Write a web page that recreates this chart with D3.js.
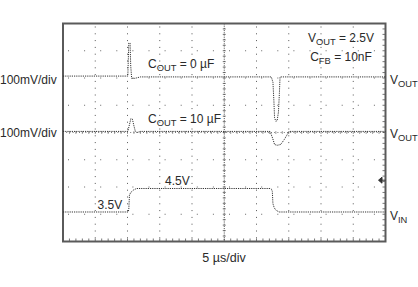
<!DOCTYPE html>
<html>
<head>
<meta charset="utf-8">
<script src="https://cdn.jsdelivr.net/npm/d3@7"></script>
<style>
  html, body { margin: 0; padding: 0; background: #fff; }
  svg { display: block; }
  text { font-family: "Liberation Sans", Arial, sans-serif; fill: #2a2a2a; }
</style>
</head>
<body>
<svg id="chart" width="418" height="287"></svg>
<script>
// ---------------- data ----------------
// time in microseconds (10 divisions x 5 us/div)
const timeDivs = d3.range(0, 11);          // horizontal divisions
const voltDivs = d3.range(0, 9);           // vertical divisions

// VOUT, COUT = 0 uF  (mV, relative to its trace ground, 100 mV/div)
const tCout0 = [0, 4, 8, 10.05, 10.12, 10.2, 10.4, 10.5, 10.65, 11.2, 12, 20, 28, 32.3, 32.55, 32.7, 32.8, 33.0, 33.2, 33.4, 33.55, 33.65, 40, 50];
const vCout0 = [3, 3, 3, 3, 60, 124, 124, 40, -6, -5, 0, 0, 0, 0, -20, -90, -150, -163, -160, -130, -60, 0, 0, 0];

// VOUT, COUT = 10 uF (mV, 100 mV/div)
const tCout10 = [0, 5, 10.06, 10.3, 10.53, 10.76, 11.0, 11.22, 11.46, 12, 20, 32.1, 32.5, 32.8, 33.2, 33.75, 34.3, 34.8, 35.1, 40, 50];
const vCout10 = [0, 0, 0, 25, 47, 45, 20, 0, -4, 0, 0, 0, -25, -48, -51, -48, -30, -10, 0, 0, 0];

// VIN (V)
const tVin = [0, 10.1, 10.2, 10.3, 10.5, 10.9, 11.4, 20, 32.2, 32.3, 32.45, 32.55, 32.75, 33.0, 33.5, 40, 50];
const vVin = [3.5, 3.5, 3.6, 4.22, 4.33, 4.43, 4.5, 4.5, 4.5, 4.48, 4.38, 3.85, 3.68, 3.58, 3.5, 3.5, 3.5];

// labels
const leftLabels  = ["100mV/div", "100mV/div"];
const levelLabels = ["3.5V", "4.5V"];
const xLabel = "5 µs/div";

// ---------------- layout ----------------
const L = 63, R = 385.5, T = 23.5, B = 241.5;
const svg = d3.select("#chart");

const x = d3.scaleLinear().domain([0, 50]).range([L, R]);
const xd = d3.scaleLinear().domain([0, 10]).range([L, R]);      // divisions
const yd = d3.scaleLinear().domain([0, 8]).range([B, T]);       // divisions

// trace -> division mapping
const y1 = d3.scaleLinear().domain([0, 100]).range([yd(6.04), yd(7.04)]);
const y2 = d3.scaleLinear().domain([0, 100]).range([yd(4.04), yd(5.04)]);
const yV = d3.scaleLinear().domain([3.5, 4.5]).range([yd(1.083), yd(1.945)]);

// ---------------- grid ----------------
const g = svg.append("g");
g.selectAll("line.vg").data(timeDivs.slice(1, -1).filter(d => d !== 5)).join("line")
  .attr("x1", d => xd(d)).attr("x2", d => xd(d))
  .attr("y1", T + 3).attr("y2", B)
  .attr("stroke", "#555").attr("stroke-width", 1)
  .attr("stroke-dasharray", "1 5.8");
g.selectAll("line.hg").data(voltDivs.slice(1, -1).filter(d => d !== 4)).join("line")
  .attr("x1", L + 5).attr("x2", R)
  .attr("y1", d => yd(d)).attr("y2", d => yd(d))
  .attr("stroke", "#666").attr("stroke-width", 1)
  .attr("stroke-dasharray", "1 15.1");
g.append("line").attr("x1", xd(5)).attr("x2", xd(5)).attr("y1", T).attr("y2", B)
  .attr("stroke", "#444").attr("stroke-dasharray", "1 1.2");
g.append("line").attr("x1", L).attr("x2", R).attr("y1", yd(4)).attr("y2", yd(4))
  .attr("stroke", "#777").attr("stroke-dasharray", "1 2.2");
const minorY = d3.range(0, 8.01, 0.2);
const minorX = d3.range(0, 10.01, 0.2);
g.selectAll("line.cty").data(minorY).join("line")
  .attr("x1", xd(5) - 1.5).attr("x2", xd(5) + 1.5)
  .attr("y1", d => yd(d)).attr("y2", d => yd(d))
  .attr("stroke", "#555").attr("stroke-width", 0.8);
g.selectAll("line.ctx").data(minorX).join("line")
  .attr("x1", d => xd(d)).attr("x2", d => xd(d))
  .attr("y1", yd(4) - 1.5).attr("y2", yd(4) + 1.5)
  .attr("stroke", "#888").attr("stroke-width", 0.8);
g.selectAll("line.rt").data(minorY).join("line")
  .attr("x1", R - 3).attr("x2", R)
  .attr("y1", d => yd(d)).attr("y2", d => yd(d))
  .attr("stroke", "#555").attr("stroke-width", 0.8);
g.selectAll("line.bt").data(minorX).join("line")
  .attr("x1", d => xd(d)).attr("x2", d => xd(d))
  .attr("y1", B - 3).attr("y2", B)
  .attr("stroke", "#555").attr("stroke-width", 0.8);

// frame
svg.append("rect").attr("x", L).attr("y", T).attr("width", R - L).attr("height", B - T)
  .attr("fill", "none").attr("stroke", "#5a5a5a").attr("stroke-width", 2);

// trigger marker
const ty = yd(2.25);
svg.append("path")
  .attr("d", `M${R - 7},${ty} L${R - 3.5},${ty - 3} L${R - 3.5},${ty + 3} Z M${R - 4},${ty} L${R},${ty}`)
  .attr("fill", "#333").attr("stroke", "#333").attr("stroke-width", 1);

// ---------------- traces ----------------
const traces = [
  { t: tCout0, v: vCout0, y: y1 },
  { t: tCout10, v: vCout10, y: y2 },
  { t: tVin, v: vVin, y: yV }
];
traces.forEach(tr => {
  const pts = tr.t.map((t, i) => [t, tr.v[i]]);
  svg.append("path")
    .datum(pts)
    .attr("fill", "none")
    .attr("stroke", "#333")
    .attr("stroke-width", 1)
    .attr("stroke-dasharray", "1.2 1")
    .attr("d", d3.line().x(d => x(d[0])).y(d => tr.y(d[1])));
});

// ---------------- text ----------------
function sub(sel, main, subTxt, rest, size) {
  sel.append("tspan").text(main);
  sel.append("tspan").attr("font-size", size * 0.78).attr("dy", size * 0.25).text(subTxt);
  sel.append("tspan").attr("dy", -size * 0.25).text(rest);
}
const fs = 12;
svg.selectAll("text.left").data(leftLabels).join("text")
  .attr("x", 0).attr("y", (d, i) => [84, 137][i])
  .attr("font-size", fs).text(d => d);

sub(svg.append("text").attr("x", 390).attr("y", 83.5).attr("font-size", fs), "V", "OUT", "", fs);
sub(svg.append("text").attr("x", 390).attr("y", 137.5).attr("font-size", fs), "V", "OUT", "", fs);
sub(svg.append("text").attr("x", 390).attr("y", 219.5).attr("font-size", fs), "V", "IN", "", fs);

sub(svg.append("text").attr("x", 148).attr("y", 67.5).attr("font-size", fs), "C", "OUT", " = 0 µF", fs);
sub(svg.append("text").attr("x", 148).attr("y", 123).attr("font-size", fs), "C", "OUT", " = 10 µF", fs);

sub(svg.append("text").attr("x", 341).attr("y", 41.5).attr("text-anchor", "middle").attr("font-size", fs), "V", "OUT", " = 2.5V", fs);
sub(svg.append("text").attr("x", 341).attr("y", 61).attr("text-anchor", "middle").attr("font-size", fs), "C", "FB", " = 10nF", fs);

svg.selectAll("text.lvl").data(levelLabels).join("text")
  .attr("x", (d, i) => [97.5, 165][i])
  .attr("y", (d, i) => [209, 185][i])
  .attr("font-size", fs).text(d => d);

svg.append("text").attr("x", 224).attr("y", 261.5).attr("text-anchor", "middle")
  .attr("font-size", 12.5).text(xLabel);
</script>
</body>
</html>
